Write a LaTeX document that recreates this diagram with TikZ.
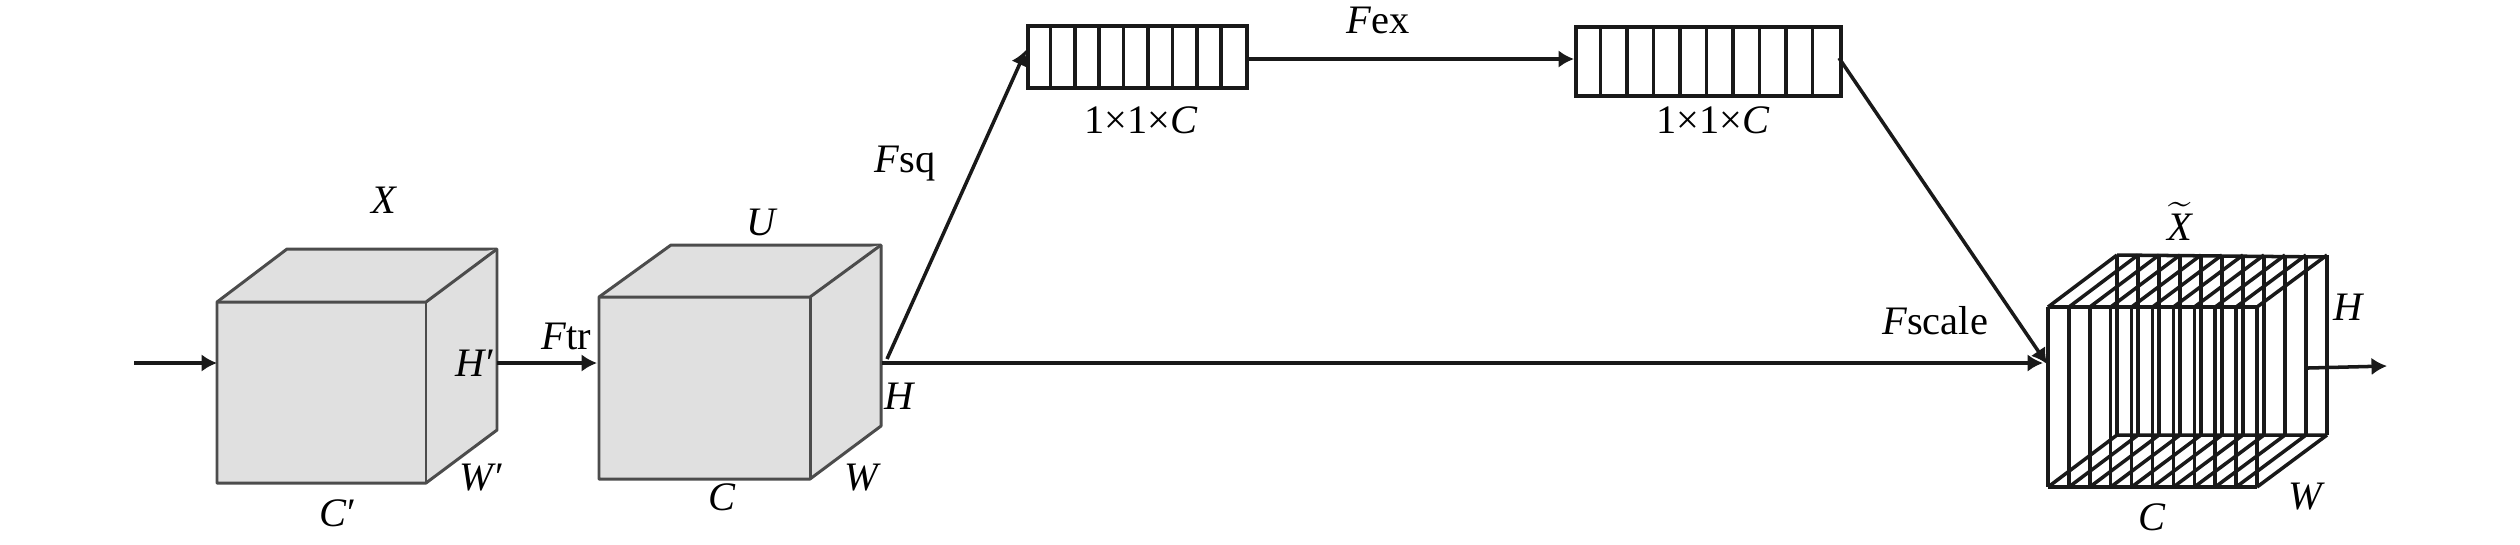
\documentclass[tikz,border=0pt]{standalone}
\usepackage{amsmath, amssymb}
\usepackage{fontspec}
\usetikzlibrary{arrows.meta}
\setmainfont{Liberation Serif}
\tikzset{
  cubeface/.style={draw=black!70,fill=black!12,line width=0.85pt,line join=round},
  stripe/.style={draw=black!90,line width=1pt},
  cell/.style={draw=black!90,line width=1.1pt,inner sep=0pt,anchor=north west},
  conn/.style={draw=black!90,line width=1pt},
  tip/.style={-{Latex[length=4.4pt,width=5pt]}},
  lbl/.style={inner sep=0pt,font=\fontsize{11.5}{13}\selectfont}
}
\begin{document}
\begin{tikzpicture}[x=0.01cm,y=-0.01cm]
  \useasboundingbox (0,0) rectangle (2520,544);
  % first cube
  \fill[cubeface] (217,302) -- (287,249) -- (497,249) -- (497,430) -- (426,483) -- (217,483) -- cycle;
  \draw[cubeface] (217,302) -- (426,302) -- (497,249);
  \draw[cubeface] (426,302) -- (426,483);
  % second cube
  \fill[cubeface] (599,297) -- (671,245) -- (881,245) -- (881,426) -- (810,479) -- (599,479) -- cycle;
  \draw[cubeface] (599,297) -- (810,297) -- (881,245);
  \draw[cubeface] (810,297) -- (810,479);
  % upper boxes
  \node[cell,minimum width=2.19cm,minimum height=0.62cm] (boxa) at (1026,24) {};
  \foreach \i in {1,...,8}
    \draw[stripe] (1026+\i*24.4,24) -- (1026+\i*24.4,86);
  \node[cell,minimum width=2.65cm,minimum height=0.69cm] (boxb) at (1574,25) {};
  \foreach \i in {1,...,9}
    \draw[stripe] (1574+\i*26.5,25) -- (1574+\i*26.5,94);
  % slices
  \foreach \i in {0,...,10} {
    \draw[stripe] (2048+\i*20.9,307) -- (2048+\i*20.9,487);
    \draw[stripe] (2117+\i*21,255) -- (2117+\i*21,435);
    \draw[stripe] (2048+\i*20.9,307) -- (2117+\i*21,255);
    \draw[stripe] (2048+\i*20.9,487) -- (2117+\i*21,435);
  }
  \draw[stripe] (2048,307) -- (2257,307) (2048,487) -- (2257,487);
  \draw[stripe] (2117,255) -- (2327,257) (2117,435) -- (2327,435);
  % connectors
  \coordinate (xin) at (134,363);
  \coordinate (xout) at (217,363);
  \coordinate (aout) at (497,363);
  \coordinate (bin) at (597,363);
  \coordinate (bout) at (882,363);
  \coordinate (sqfrom) at (887,359);
  \coordinate (sqto) at (1026,50);
  \coordinate (exfrom) at (boxa.east |- 0,59);
  \coordinate (exto) at (boxb.west |- 0,59);
  \coordinate (scfrom) at (1839,58);
  \coordinate (scto) at (2047,364);
  \coordinate (slin) at (2043,363);
  \coordinate (slout) at (2308,368);
  \coordinate (fin) at (2387,366);
  \draw[conn,tip] (xin) -- (xout);
  \draw[conn,tip] (aout) -- (bin);
  \draw[conn,tip] (bout) -- (slin);
  \draw[conn,tip] (sqfrom) -- (sqto);
  \draw[conn,tip] (exfrom) -- (exto);
  \draw[conn,tip] (scfrom) -- (scto);
  \draw[conn,tip] (slout) -- (fin);
  % labels
  \node[lbl] (lx) at (385,200) {\textit{X}};
  \node[lbl] (lha) at (475,363) {\textit{H}′};
  \node[lbl] (lwa) at (482,478) {\textit{W}′};
  \node[lbl] (lca) at (338,513) {\textit{C}′};
  \node[lbl] (lftr) at (566,336) {\textit{F}tr};
  \node[lbl] (lu) at (762,222) {\textit{U}};
  \node[lbl] (lhb) at (900,396) {\textit{H}};
  \node[lbl] (lwb) at (863,478) {\textit{W}};
  \node[lbl] (lcb) at (722,497) {\textit{C}};
  \node[lbl] (lfsq) at (905,164) {\textit{F}sq};
  \node[lbl] (lda) at (1141,120) {1×1×\textit{C}};
  \node[lbl] (ldb) at (1713,120) {1×1×\textit{C}};
  \node[lbl] (lfex) at (1378,20) {\textit{F}ex};
  \node[lbl] (lfsc) at (1935,321) {\textit{F}scale};
  \node[lbl] (ltx) at (2180,221) {$\widetilde{\text{\textit{X}}}$};
  \node[lbl] (lhc) at (2349,307) {\textit{H}};
  \node[lbl] (lcc) at (2152,517) {\textit{C}};
  \node[lbl] (lwc) at (2307,497) {\textit{W}};
\end{tikzpicture}
\end{document}
